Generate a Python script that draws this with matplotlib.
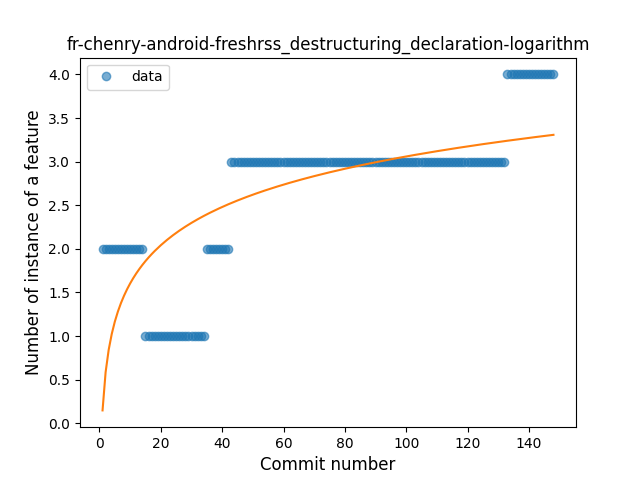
import numpy as np
import matplotlib
matplotlib.use('Agg')
import matplotlib.pyplot as plt

levels = [2, 1, 2, 3, 4]
counts = [14, 20, 8, 90, 16]

commits = np.arange(1, sum(counts) + 1)
values = np.repeat(levels, counts)

# logarithmic fit y = a + b*ln(x)
b, a = np.polyfit(np.log(commits), values, 1)
fit = a + b * np.log(commits)

fig, ax = plt.subplots(figsize=(6.4, 4.8), dpi=100)
ax.plot(commits, values, 'o', alpha=0.6, label='data')
ax.plot(commits, fit, '-')
ax.set_title('fr-chenry-android-freshrss_destructuring_declaration-logarithm')
ax.set_xlabel('Commit number', fontsize=12)
ax.set_ylabel('Number of instance of a feature', fontsize=12)
ax.legend(loc='upper left')
fig.savefig('out.png')
